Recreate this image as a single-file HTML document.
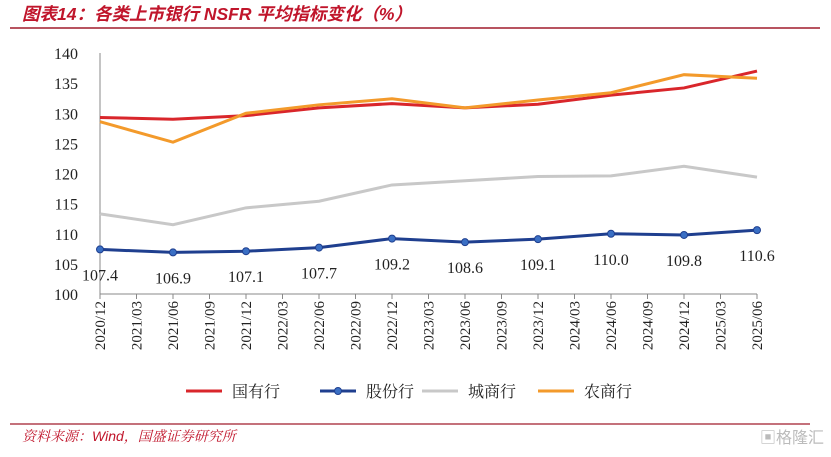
<!DOCTYPE html>
<html><head><meta charset="utf-8"><style>
body{margin:0;background:#fff;}
svg text{font-family:"Liberation Serif","Noto Serif CJK SC",serif;}
</style></head><body>
<svg width="831" height="452" xmlns="http://www.w3.org/2000/svg">
<text x="22" y="20" fill="#c0152b" font-size="17.5" font-weight="bold" font-style="italic" style="font-family:'Liberation Sans','Noto Sans CJK SC',sans-serif">图表14：各类上市银行 NSFR 平均指标变化（%）</text>
<line x1="10" y1="28" x2="820" y2="28" stroke="#a01c2c" stroke-width="1.5"/>
<g id="axes"></g>
<g id="series"></g>
<g id="legend"></g>
<line x1="10" y1="424" x2="810" y2="424" stroke="#a01c2c" stroke-width="1.2"/>
<text x="22" y="441" fill="#c0152b" font-size="14" font-style="italic" style="font-family:'Liberation Sans','Noto Serif CJK SC',sans-serif">资料来源：Wind，国盛证券研究所</text>
<text x="760" y="443" fill="#bbb" font-size="16" style="font-family:'Liberation Sans','Noto Sans CJK SC',sans-serif">▣格隆汇</text>
</svg>
<script>
const categories=["2020/12","2021/03","2021/06","2021/09","2021/12","2022/03","2022/06","2022/09","2022/12","2023/03","2023/06","2023/09","2023/12","2024/03","2024/06","2024/09","2024/12","2025/03","2025/06"];
const dataIdx=[0,2,4,6,8,10,12,14,16,18];
const guoyou=[129.3,129.0,129.6,130.9,131.6,130.9,131.5,133.0,134.2,137.0];
const gufen=[107.4,106.9,107.1,107.7,109.2,108.6,109.1,110.0,109.8,110.6];
const chengshang=[113.3,111.5,114.3,115.4,118.1,118.8,119.5,119.6,121.2,119.4];
const nongshang=[128.6,125.2,130.0,131.4,132.4,130.9,132.2,133.4,136.4,135.8];
const yTicks=[100,105,110,115,120,125,130,135,140];
const NS="http://www.w3.org/2000/svg";
const X0=100,X1=757,Y0=294,Y1=53;
const xs=i=>X0+i*(X1-X0)/(categories.length-1);
const ys=v=>Y0-(v-100)/40*(Y0-Y1);
function mk(tag,attrs,parent,txt){const e=document.createElementNS(NS,tag);for(const k in attrs)e.setAttribute(k,attrs[k]);if(txt!==undefined)e.textContent=txt;parent.appendChild(e);return e;}
const ax=document.getElementById('axes');
let e=mk('line',{x1:X0,y1:Y1,x2:X0,y2:Y0,stroke:'#888'},ax);


e=mk('line',{x1:X0,y1:Y0,x2:X1,y2:Y0,stroke:'#888'},ax);


yTicks.forEach(t=>{
 const l=mk('text',{x:X0-22,y:ys(t)+6,'text-anchor':'end','font-size':'16',fill:'#222'},ax,t);
 
 
});
categories.forEach((c,i)=>{
 const tk=mk('line',{x1:xs(i),y1:Y0,x2:xs(i),y2:Y0+5,stroke:'#888'},ax);
 
 
 const x=xs(i)+5,y=Y0+7;
 const l=mk('text',{x:x,y:y,'text-anchor':'end','font-size':'15',fill:'#222',transform:`rotate(-90 ${x} ${y})`},ax,c);
 
 
});
const sg=document.getElementById('series');
const series=[["guoyou-line",guoyou,"#d9262b"],["chengshang-line",chengshang,"#c8c8c8"],["nongshang-line",nongshang,"#f39a2b"],["gufen-line",gufen,"#1f3f8f"]];
series.forEach(([n,vals,col])=>{
 const p=mk('polyline',{points:vals.map((v,k)=>xs(dataIdx[k])+','+ys(v)).join(' '),fill:'none',stroke:col,'stroke-width':'3'},sg);
 
 
});
gufen.forEach((v,k)=>{
 const c=mk('circle',{cx:xs(dataIdx[k]),cy:ys(v),r:3.5,fill:'#3a6fc4',stroke:'#1f3f8f'},sg);
 
 
 const t=mk('text',{x:xs(dataIdx[k]),y:ys(v)+31,'text-anchor':'middle','font-size':'16',fill:'#222'},sg,v.toFixed(1));
 
 
});
const lg=document.getElementById('legend');
const leg=[["国有行","#d9262b",186,false],["股份行","#1f3f8f",320,true],["城商行","#c8c8c8",422,false],["农商行","#f39a2b",538,false]];
leg.forEach(([n,col,x,m])=>{
 const g=mk('g',{},lg);
 
 
 mk('line',{x1:x,y1:391,x2:x+36,y2:391,stroke:col,'stroke-width':'3'},g);
 if(m)mk('circle',{cx:x+18,cy:391,r:3.5,fill:'#3a6fc4',stroke:col},g);
 mk('text',{x:x+46,y:397,'font-size':'16',fill:'#222'},g,n);
});
</script>
</body></html>
